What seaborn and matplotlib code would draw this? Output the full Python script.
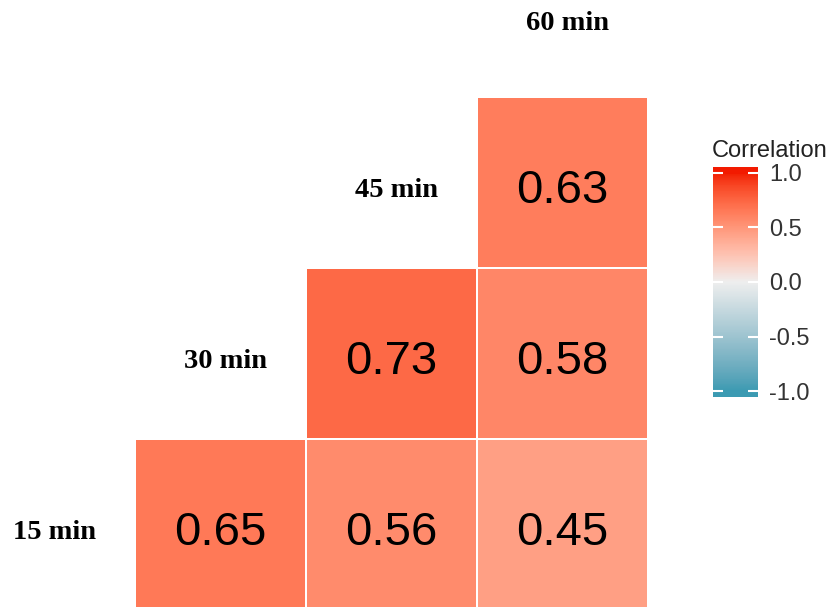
import numpy as np
import pandas as pd
import matplotlib
matplotlib.use("Agg")
import matplotlib.pyplot as plt
from matplotlib.colors import ListedColormap, Normalize
import seaborn as sns

# ---- data -----------------------------------------------------------------
variables = ["15 min", "30 min", "45 min", "60 min"]
row_labels = ["45 min", "30 min", "15 min"]          # heatmap rows, top to bottom
col_labels = ["30 min", "45 min", "60 min"]          # heatmap columns, left to right
row_45 = [np.nan, np.nan, 0.63]
row_30 = [np.nan, 0.73, 0.58]
row_15 = [0.65, 0.56, 0.45]
tick_values = [-1.0, -0.5, 0.0, 0.5, 1.0]
tick_labels = ["-1.0", "-0.5", "0.0", "0.5", "1.0"]
low_color, mid_color, high_color = "#3B9AB2", "#EEEEEE", "#F21A00"

corr = pd.DataFrame([row_45, row_30, row_15], index=row_labels, columns=col_labels)


# ---- diverging palette interpolated in CIELAB -----------------------------
M = np.array([[0.4124564, 0.3575761, 0.1804375],
              [0.2126729, 0.7151522, 0.0721750],
              [0.0193339, 0.1191920, 0.9503041]])
WHITE = np.array([0.95047, 1.0, 1.08883])
D = 6 / 29


def hex_to_lab(h):
    rgb = np.array([int(h[i:i + 2], 16) for i in (1, 3, 5)]) / 255.0
    lin = np.where(rgb <= 0.04045, rgb / 12.92, ((rgb + 0.055) / 1.055) ** 2.4)
    xyz = M @ lin / WHITE
    f = np.where(xyz > D ** 3, np.cbrt(xyz), xyz / (3 * D ** 2) + 4 / 29)
    return np.array([116 * f[1] - 16, 500 * (f[0] - f[1]), 200 * (f[1] - f[2])])


def lab_to_rgb(lab):
    fy = (lab[0] + 16) / 116
    f = np.array([fy + lab[1] / 500, fy, fy - lab[2] / 200])
    xyz = np.where(f > D, f ** 3, 3 * D ** 2 * (f - 4 / 29)) * WHITE
    lin = np.linalg.solve(M, xyz)
    lin = np.clip(lin, 0, 1)
    rgb = np.where(lin <= 0.0031308, 12.92 * lin, 1.055 * lin ** (1 / 2.4) - 0.055)
    return np.clip(rgb, 0, 1)


lab_lo, lab_mid, lab_hi = (hex_to_lab(c) for c in (low_color, mid_color, high_color))
colors = []
for v in np.linspace(-1, 1, 256):
    if v < 0:
        lab = lab_mid + (-v) * (lab_lo - lab_mid)
    else:
        lab = lab_mid + v * (lab_hi - lab_mid)
    colors.append(lab_to_rgb(lab))
cmap = ListedColormap(colors)
norm = Normalize(vmin=-1, vmax=1)

# ---- figure ---------------------------------------------------------------
sns.set_theme(style="white")
plt.rcParams["font.family"] = ["Liberation Sans", "DejaVu Sans"]
plt.rcParams["axes.unicode_minus"] = False

W, H = 835, 607
fig = plt.figure(figsize=(W / 100, H / 100), dpi=100)
fig.patch.set_facecolor("white")

cell = 171.0
left_px, top_px = 135.0, 96.7
ax = fig.add_axes([left_px / W, (H - top_px - 3 * cell) / H, 3 * cell / W, 3 * cell / H])

sns.heatmap(corr, ax=ax, cmap=cmap, norm=norm, cbar=False,
            mask=corr.isna(), linewidths=1.2, linecolor="white",
            annot=True, fmt=".2f",
            annot_kws={"size": 34, "color": "black", "family": "Liberation Sans"},
            square=False)
for t in ax.texts:
    x, y = t.get_position()
    t.set_verticalalignment("baseline")
    t.set_position((x, y + 0.123))

ax.set_xticks([])
ax.set_yticks([])
ax.set_xlabel("")
ax.set_ylabel("")
for s in ax.spines.values():
    s.set_visible(False)

# variable names along the diagonal
for k, name in enumerate(variables):
    dy = 0.088 if k < 3 else 0.11
    ax.text(k - 0.5 + 0.03, 2.5 - k + dy, name, ha="center", va="baseline",
            fontsize=20.5, fontweight="bold", family=["Liberation Serif", "DejaVu Serif"],
            color="black", clip_on=False)

# ---- colour bar -----------------------------------------------------------
cax = fig.add_axes([712.7 / W, (H - 397) / H, 45.5 / W, 230 / H])
sm = plt.cm.ScalarMappable(norm=norm, cmap=cmap)
cbar = fig.colorbar(sm, cax=cax, extend="both", extendrect=True, extendfrac=0.026)
cbar.outline.set_visible(False)
cbar.minorticks_off()
cbar.set_ticks(tick_values)
cbar.set_ticklabels(tick_labels)
cbar.ax.yaxis.set_ticks_position("both")
cbar.ax.yaxis.set_tick_params(which="major", direction="in", left=True, right=True,
                              labelleft=False, labelright=True, length=7, width=1.5,
                              color="white", labelsize=17, labelcolor="#333333", pad=8)
for tick in cbar.ax.yaxis.get_major_ticks():
    tick.tick1line.set_zorder(5)
    tick.tick2line.set_zorder(5)
cbar.ax.set_axisbelow(False)
fig.text(712 / W, (H - 157) / H, "Correlation", ha="left", va="baseline",
         fontsize=17, color="#222222")

fig.savefig("out.png", dpi=100, facecolor="white")
